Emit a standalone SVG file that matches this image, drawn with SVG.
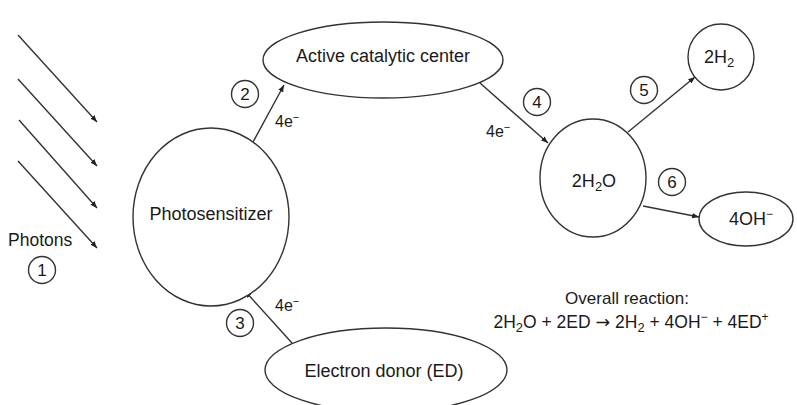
<svg xmlns="http://www.w3.org/2000/svg" width="797" height="405" viewBox="0 0 797 405">
<defs>
<style>
.n{fill:#fff;stroke:#333;stroke-width:1.4}
.c{fill:none;stroke:#333;stroke-width:1.4}
.e{stroke:#333;stroke-width:1.4;fill:none}
text{font-family:"Liberation Sans",Arial,sans-serif;fill:#1a1a1a}
.t{font-size:18px;text-anchor:middle}
.s{font-size:16px}
.num{font-size:17px;text-anchor:middle}
</style>
<marker id="ah" viewBox="0 0 10 8" refX="10" refY="4" markerWidth="7" markerHeight="5.5" markerUnits="userSpaceOnUse" orient="auto">
<path d="M0,0 L10,4 L0,8 Z" fill="#222"/>
</marker>
</defs>
<rect width="797" height="405" fill="#fff"/>
<g id="connectors">
<line class="e" x1="18" y1="35" x2="97" y2="122" marker-end="url(#ah)"/>
<line class="e" x1="18" y1="79" x2="97" y2="166" marker-end="url(#ah)"/>
<line class="e" x1="19" y1="120" x2="97" y2="208" marker-end="url(#ah)"/>
<line class="e" x1="18" y1="161" x2="97" y2="248" marker-end="url(#ah)"/>
<line class="e" x1="253" y1="142" x2="284" y2="85" marker-end="url(#ah)"/>
<line class="e" x1="292" y1="343" x2="245" y2="291" marker-end="url(#ah)"/>
<line class="e" x1="480" y1="83" x2="548" y2="143" marker-end="url(#ah)"/>
<line class="e" x1="628" y1="132" x2="695" y2="77" marker-end="url(#ah)"/>
<line class="e" x1="643" y1="206" x2="699" y2="217" marker-end="url(#ah)"/>
</g>
<g id="photons">
<text x="8" y="246" style="font-size:17.5px">Photons</text>
<circle class="c" cx="42" cy="270" r="13.5"/>
<text class="num" x="42" y="276">1</text>
</g>
<g id="photosensitizer">
<ellipse class="n" cx="211" cy="217" rx="78" ry="89"/>
<text class="t" x="211" y="220">Photosensitizer</text>
</g>
<g id="catalytic-center">
<ellipse class="n" cx="383" cy="60" rx="120" ry="38"/>
<text class="t" x="383" y="62">Active catalytic center</text>
</g>
<g id="water">
<ellipse class="n" cx="593" cy="178" rx="53" ry="59"/>
<text class="t" x="594" y="187">2H<tspan font-size="13" dy="4">2</tspan><tspan dy="-4">O</tspan></text>
</g>
<g id="hydrogen">
<ellipse class="n" cx="721" cy="57" rx="33" ry="33"/>
<text class="t" x="719" y="63">2H<tspan font-size="13" dy="4">2</tspan></text>
</g>
<g id="hydroxide">
<ellipse class="n" cx="746" cy="219" rx="47" ry="27"/>
<text class="t" x="751" y="225">4OH<tspan font-size="12" dy="-7">−</tspan></text>
</g>
<g id="electron-donor">
<ellipse class="n" cx="386" cy="370" rx="121" ry="42"/>
<text class="t" x="384" y="377">Electron donor (ED)</text>
</g>
<g id="labels">
<circle class="c" cx="245" cy="94" r="13.5"/>
<text class="num" x="245" y="100">2</text>
<circle class="c" cx="240" cy="323" r="13.5"/>
<text class="num" x="240" y="329">3</text>
<circle class="c" cx="537" cy="102" r="13.5"/>
<text class="num" x="537" y="108">4</text>
<circle class="c" cx="644" cy="90" r="13.5"/>
<text class="num" x="644" y="96">5</text>
<circle class="c" cx="672" cy="182" r="13.5"/>
<text class="num" x="672" y="188">6</text>
<text class="s" x="275" y="127">4e<tspan font-size="11" dy="-6">−</tspan></text>
<text class="s" x="275" y="311">4e<tspan font-size="11" dy="-6">−</tspan></text>
<text class="s" x="486" y="137">4e<tspan font-size="11" dy="-6">−</tspan></text>
</g>
<g id="overall-reaction">
<text class="t" x="627" y="304" style="font-size:17px">Overall reaction:</text>
<text class="t" x="631" y="328" style="font-size:17.5px">2H<tspan font-size="13" dy="4">2</tspan><tspan dy="-4">O + 2ED </tspan><tspan style="font-family:'DejaVu Sans',sans-serif">→</tspan><tspan> 2H</tspan><tspan font-size="13" dy="4">2</tspan><tspan dy="-4"> + 4OH</tspan><tspan font-size="12" dy="-7">−</tspan><tspan dy="7"> + 4ED</tspan><tspan font-size="12" dy="-7">+</tspan></text>
</g>
</svg>
